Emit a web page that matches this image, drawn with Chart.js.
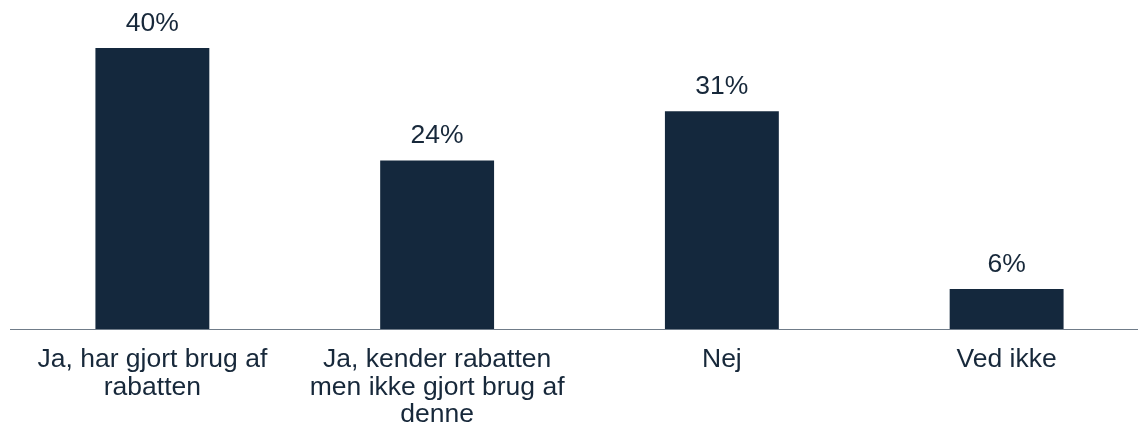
<!DOCTYPE html>
<html>
<head>
<meta charset="utf-8">
<script src="https://cdn.jsdelivr.net/npm/chart.js@4"></script>
<style>
  html, body { margin: 0; padding: 0; background: #fff; overflow: hidden; }
  #wrap { position: relative; width: 1150px; height: 434px; }
</style>
</head>
<body>
<div id="wrap"><canvas id="chart"></canvas></div>
<script>
// answers and share of respondents (%)
const categories = [
  ['Ja, har gjort brug af', 'rabatten'],
  ['Ja, kender rabatten', 'men ikke gjort brug af', 'denne'],
  'Nej',
  'Ved ikke'
];
const shares = [40, 24, 31, 5.7];

const barColor = '#14283d';
const textColor = '#17283a';
const fontFamily = 'Arial, "Liberation Sans", sans-serif';

// percent labels over each bar
const valueLabels = {
  id: 'valueLabels',
  afterDatasetsDraw(chart) {
    const ctx = chart.ctx;
    const meta = chart.getDatasetMeta(0);
    ctx.save();
    ctx.font = '26.5px ' + fontFamily;
    ctx.fillStyle = textColor;
    ctx.textAlign = 'center';
    ctx.textBaseline = 'alphabetic';
    meta.data.forEach((bar, i) => {
      ctx.fillText(Math.round(shares[i]) + '%', bar.x, bar.y - 17);
    });
    ctx.restore();
  }
};

const ctx = document.getElementById('chart').getContext('2d');
new Chart(ctx, {
  type: 'bar',
  data: {
    labels: categories,
    datasets: [{
      data: shares,
      backgroundColor: barColor,
      barPercentage: 0.4,
      categoryPercentage: 1
    }]
  },
  options: {
    responsive: true,
    maintainAspectRatio: false,
    animation: false,
    layout: { padding: { left: 10, right: 1, top: 20, bottom: 0 } },
    plugins: {
      legend: { display: false },
      tooltip: { enabled: false }
    },
    scales: {
      y: { display: false, min: 0, max: 44 },
      x: {
        grid: { display: false, drawTicks: false },
        border: { display: true, color: '#707c89', width: 1 },
        afterFit: s => { s.height = 105 },
        ticks: {
          color: textColor,
          padding: 17,
          maxRotation: 0,
          autoSkip: false,
          font: { family: fontFamily, size: 26.5, lineHeight: 1.04 }
        }
      }
    }
  },
  plugins: [valueLabels]
});
</script>
</body>
</html>
